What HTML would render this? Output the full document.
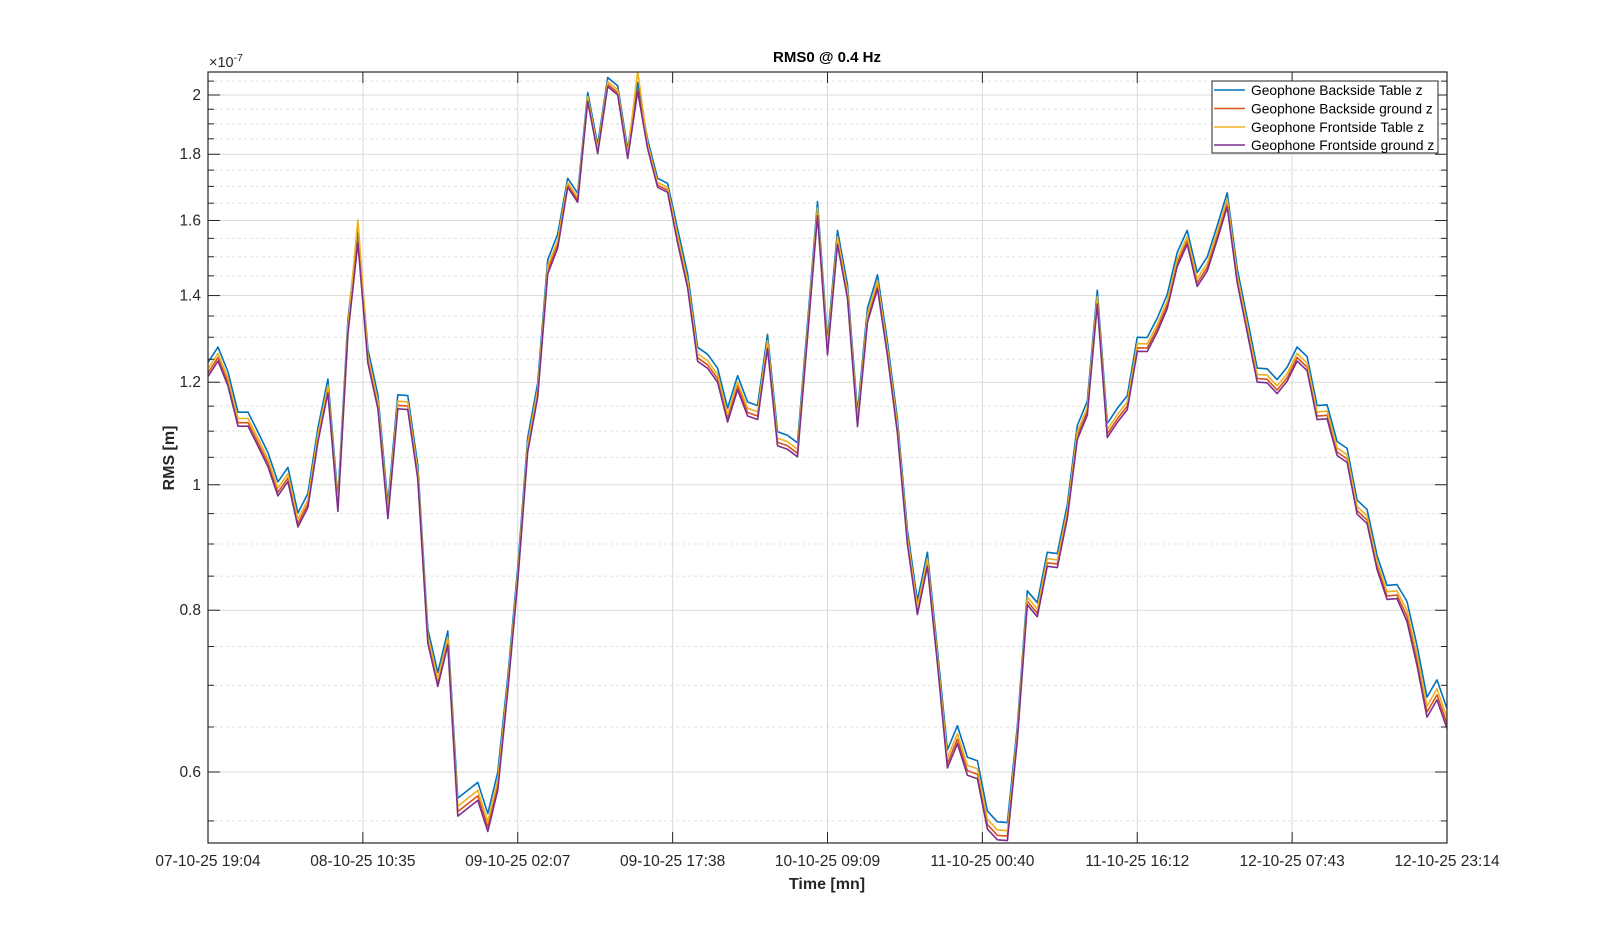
<!DOCTYPE html>
<html><head><meta charset="utf-8">
<style>
html,body{margin:0;padding:0;background:#fff;}
svg{display:block;font-family:"Liberation Sans",Arial,sans-serif;}
</style></head>
<body>
<svg id="s" width="1600" height="948" viewBox="0 0 1600 948" xmlns="http://www.w3.org/2000/svg">
<rect width="1600" height="948" fill="#fff"/>
<g id="grid"></g>
<defs><clipPath id="c"><rect x="208" y="72" width="1239" height="771"/></clipPath></defs>
<g id="series" clip-path="url(#c)" fill="none" stroke-width="1.6" stroke-linejoin="round"></g>
<g id="axes"></g>
<text x="827" y="62" text-anchor="middle" font-size="15" font-weight="bold" fill="#000">RMS0 @ 0.4 Hz</text>
<text x="209" y="67" font-size="14.5" fill="#262626">×10<tspan dy="-6" font-size="10.5">-7</tspan></text>
<text x="827" y="889" text-anchor="middle" font-size="16" font-weight="bold" fill="#262626">Time [mn]</text>
<text transform="translate(174,458) rotate(-90)" text-anchor="middle" font-size="16" font-weight="bold" fill="#262626">RMS [m]</text>
<g id="legend">
<rect x="1212" y="81" width="226" height="72" fill="#fff" stroke="#262626" stroke-width="1"/>
<line x1="1214" y1="90" x2="1245" y2="90" stroke="#0072BD" stroke-width="1.6"/>
<line x1="1214" y1="108.5" x2="1245" y2="108.5" stroke="#D95319" stroke-width="1.6"/>
<line x1="1214" y1="127" x2="1245" y2="127" stroke="#EDB120" stroke-width="1.6"/>
<line x1="1214" y1="145" x2="1245" y2="145" stroke="#7E2F8E" stroke-width="1.6"/>
<text x="1251" y="95" font-size="13.8" fill="#000">Geophone Backside Table z</text>
<text x="1251" y="113.5" font-size="13.8" fill="#000">Geophone Backside ground z</text>
<text x="1251" y="132" font-size="13.8" fill="#000">Geophone Frontside Table z</text>
<text x="1251" y="150" font-size="13.8" fill="#000">Geophone Frontside ground z</text>
</g>
</svg>
<script>
var NS="http://www.w3.org/2000/svg";
function el(p,t,a,txt){var e=document.createElementNS(NS,t);for(var k in a)e.setAttribute(k,a[k]);if(txt!==undefined)e.textContent=txt;p.appendChild(e);return e;}
var L=208,R=1447,T=72,B=843;
function Y(v){return 95+562.3*Math.log(2/v);}
var grid=document.getElementById('grid'),axes=document.getElementById('axes');
for(var k=11;k<=41;k++){var v=k*0.05,y=Y(v);if(y<T||y>B)continue;
 var major=(k%4==0);
 el(grid,'line',{x1:L,x2:R,y1:y,y2:y,stroke:major?'#d9d9d9':'#e0e0e0','stroke-width':1,'stroke-dasharray':major?'':'3,3'});
 var tl=major?12:6;
 el(axes,'line',{x1:L,x2:L+tl,y1:y,y2:y,stroke:'#262626','stroke-width':1});
 el(axes,'line',{x1:R-tl,x2:R,y1:y,y2:y,stroke:'#262626','stroke-width':1});
 if(major){var lab=(Math.round(v*10)/10).toString();
  el(axes,'text',{x:L-7,y:y+5,'text-anchor':'end','font-size':15.5,fill:'#262626'},lab);}
}
var xl=["07-10-25 19:04","08-10-25 10:35","09-10-25 02:07","09-10-25 17:38","10-10-25 09:09","11-10-25 00:40","11-10-25 16:12","12-10-25 07:43","12-10-25 23:14"];
for(var i=0;i<9;i++){var x=L+i*(R-L)/8;
 if(i>0&&i<8)el(grid,'line',{x1:x,x2:x,y1:T,y2:B,stroke:'#d9d9d9','stroke-width':1});
 el(axes,'line',{x1:x,x2:x,y1:B-11,y2:B,stroke:'#262626','stroke-width':1});
 el(axes,'line',{x1:x,x2:x,y1:T,y2:T+11,stroke:'#262626','stroke-width':1});
 el(axes,'text',{x:x,y:866,'text-anchor':'middle','font-size':15.5,fill:'#262626'},xl[i]);
}
el(axes,'rect',{x:L,y:T,width:R-L,height:B-T,fill:'none',stroke:'#262626','stroke-width':1.2});
var b=[362.5,347.1,372,412.2,412.2,432.1,452.8,481.9,467.4,513,493.5,428,379,498.4,320.2,229,349.2,394.8,504.7,394.8,395.6,465.3,629,672.5,631,798.1,790.2,782.4,813.5,772,676.7,567,437.8,383.1,259.9,234,178.3,193.3,92.4,144.6,77.5,85.9,149.5,82.4,139.6,178.3,183.3,229,273.8,347.3,354.3,368.2,408,375.7,402,405.5,334.4,431.8,435.3,442.8,323.5,201.7,340.9,230.4,284.6,412.7,308.1,274.8,342.3,419.1,530.1,600.6,552.3,649.7,750,725.7,757.3,760.7,811.1,821.8,822.6,726.6,590.8,602.7,552.3,553.6,504.5,425.5,401.2,290.2,423.4,408.4,395.6,337.3,337.5,318.3,294.6,252.5,230.3,272.4,257.1,225.8,192.9,268.6,318.3,368.1,368.8,379.6,367.3,347,356.6,405.6,404.8,441.5,448.4,500.1,509.6,555.6,585.4,584.6,601.5,645.5,697.1,679.9,708.6];
var n=b.length,dx=(R-L)/(n-1);
function p(i){var o=14;if((i>=25&&i<=29)||(i>=74&&i<=80))o=18;if(i>=36&&i<=46)o=9;if(i>=120)o=20;if(i==13)o=13;return o;}
function path(f){var d='';for(var i=0;i<n;i++){d+=(i?'L':'M')+(L+i*dx).toFixed(1)+','+f(i).toFixed(1);}return d;}
var g=document.getElementById('series');
el(g,'path',{d:path(function(i){return b[i];}),stroke:'#0072BD'});
el(g,'path',{d:path(function(i){return b[i]+p(i)*0.75;}),stroke:'#D95319'});
el(g,'path',{d:path(function(i){if(i==15)return b[i]-9;if(i==43)return b[i]-11;return b[i]+p(i)*0.45;}),stroke:'#EDB120'});
el(g,'path',{d:path(function(i){return b[i]+p(i);}),stroke:'#7E2F8E'});
</script>
</body></html>
